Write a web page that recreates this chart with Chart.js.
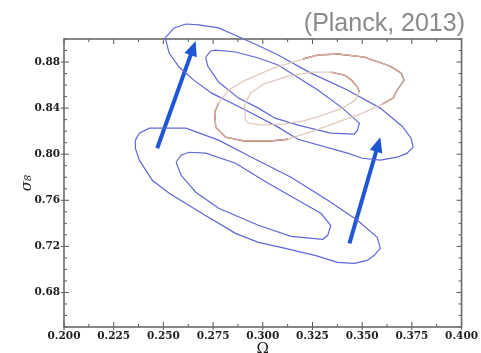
<!DOCTYPE html>
<html>
<head>
<meta charset="utf-8">
<script src="https://cdn.jsdelivr.net/npm/chart.js@4.4.1/dist/chart.umd.min.js"></script>
<style>
  html, body { margin: 0; padding: 0; background: #fff; }
  #wrap { width: 481px; height: 353px; }
</style>
</head>
<body>
<div id="wrap"><canvas id="myChart" width="481" height="353"></canvas></div>
<script>
// AXES
const xTicks = [0.200, 0.225, 0.250, 0.275, 0.300, 0.325, 0.350, 0.375, 0.400];
const xTickLabels = ['0.200', '0.225', '0.250', '0.275', '0.300', '0.325', '0.350', '0.375', '0.400'];
const yTicks = [0.68, 0.72, 0.76, 0.80, 0.84, 0.88];
const yTickLabels = ['0.68', '0.72', '0.76', '0.80', '0.84', '0.88'];

// CONTOURS (Omega, sigma_8)
// upper blue pair
const upOuterX = [0.2509,0.2554,0.2613,0.2678,0.2778,0.2893,0.2993,0.3077,0.3242,0.3426,0.3591,0.3701,0.3746,0.3756,0.3726,0.3676,0.3591,0.3501,0.3426,0.3177,0.3077,0.2913,0.2743,0.2653,0.2579,0.2529,0.2509];
const upOuterY = [0.9009,0.9096,0.9130,0.9122,0.9096,0.9009,0.8930,0.8861,0.8704,0.8557,0.8400,0.8243,0.8139,0.8061,0.8009,0.7974,0.7948,0.7965,0.8009,0.8130,0.8235,0.8383,0.8530,0.8643,0.8757,0.8878,0.9009];
const upInnerX = [0.2713,0.2738,0.2763,0.2863,0.2978,0.3077,0.3277,0.3401,0.3486,0.3476,0.3461,0.3342,0.3177,0.3062,0.2978,0.2878,0.2778,0.2723,0.2713];
const upInnerY = [0.8843,0.8896,0.8904,0.8887,0.8835,0.8774,0.8557,0.8400,0.8270,0.8209,0.8174,0.8183,0.8252,0.8313,0.8400,0.8487,0.8626,0.8765,0.8843];

// lower blue pair
const lowOuterX = [0.2359,0.2379,0.2429,0.2613,0.2778,0.2943,0.3142,0.3327,0.3476,0.3576,0.3591,0.3561,0.3526,0.3461,0.3377,0.3262,0.3092,0.2978,0.2863,0.2693,0.2529,0.2444,0.2379,0.2359,0.2359];
const lowOuterY = [0.8122,0.8183,0.8226,0.8226,0.8122,0.7974,0.7800,0.7600,0.7426,0.7278,0.7183,0.7122,0.7078,0.7052,0.7061,0.7122,0.7191,0.7235,0.7313,0.7487,0.7661,0.7774,0.7948,0.8052,0.8122];
const lowInnerX = [0.2564,0.2589,0.2628,0.2713,0.2863,0.3027,0.3177,0.3292,0.3342,0.3327,0.3302,0.3142,0.2978,0.2778,0.2663,0.2589,0.2564];
const lowInnerY = [0.7930,0.7991,0.8017,0.8009,0.7922,0.7748,0.7600,0.7487,0.7383,0.7296,0.7261,0.7287,0.7383,0.7530,0.7670,0.7817,0.7930];

// Planck contours (faint) and the darker red pieces on top of them
const plOuterX = [0.2778,0.2828,0.2913,0.3052,0.3202,0.3277,0.3377,0.3511,0.3641,0.3696,0.3711,0.3676,0.3656,0.3601,0.3501,0.3377,0.3252,0.3127,0.3027,0.2913,0.2813,0.2763,0.2758,0.2778];
const plOuterY = [0.8443,0.8557,0.8643,0.8748,0.8826,0.8861,0.8870,0.8843,0.8765,0.8704,0.8643,0.8557,0.8487,0.8435,0.8357,0.8278,0.8200,0.8130,0.8113,0.8113,0.8148,0.8235,0.8365,0.8443];
const plInnerX = [0.2913,0.2908,0.2938,0.3003,0.3127,0.3252,0.3342,0.3411,0.3446,0.3476,0.3486,0.3466,0.3401,0.3302,0.3202,0.3102,0.3003,0.2928,0.2913];
const plInnerY = [0.8296,0.8426,0.8530,0.8609,0.8678,0.8713,0.8713,0.8687,0.8643,0.8583,0.8539,0.8470,0.8400,0.8339,0.8287,0.8261,0.8252,0.8270,0.8296];

const redAX = [0.2778,0.2758,0.2763,0.2813,0.2913,0.3027,0.3127];
const redAY = [0.8443,0.8365,0.8235,0.8148,0.8113,0.8113,0.8130];
const redBX = [0.3202,0.3277,0.3377,0.3511,0.3641,0.3696];
const redBY = [0.8826,0.8861,0.8870,0.8843,0.8765,0.8704];
const darkX = [0.3696,0.3711,0.3676];
const darkY = [0.8704,0.8643,0.8557];
const redCX = [0.3676,0.3656,0.3601];
const redCY = [0.8557,0.8487,0.8435];
const redInX = [0.3342,0.3411,0.3446,0.3476,0.3486];
const redInY = [0.8713,0.8687,0.8643,0.8583,0.8539];

// shift arrows
const arrow1X = [0.2469, 0.2654];
const arrow1Y = [0.8052, 0.8942];
const arrow2X = [0.3436, 0.3584];
const arrow2Y = [0.7226, 0.8106];

const pts = (xs, ys) => xs.map((x, i) => ({ x: x, y: ys[i] }));

function curve(xs, ys, color, width) {
  return {
    data: pts(xs, ys),
    showLine: true,
    borderColor: color,
    borderWidth: width,
    pointRadius: 0,
    tension: 0,
    fill: false,
    clip: false
  };
}

const blue = '#6066d8';
const red = '#962a1b';
const pink = 'rgba(222,196,186,0.9)';
const arrowBlue = '#1f56d4';

const datasets = [
  curve(plOuterX, plOuterY, pink, 1.3),
  curve(plInnerX, plInnerY, pink, 1.3),
  curve(redAX, redAY, red, 1.4),
  curve(redBX, redBY, red, 1.4),
  curve(darkX, darkY, '#333', 1.3),
  curve(redCX, redCY, red, 1.4),
  curve(redInX, redInY, red, 1.4),
  curve(upOuterX, upOuterY, blue, 1.2),
  curve(upInnerX, upInnerY, blue, 1.2),
  curve(lowOuterX, lowOuterY, blue, 1.2),
  curve(lowInnerX, lowInnerY, blue, 1.2),
  Object.assign(curve(arrow1X, arrow1Y, arrowBlue, 4), { arrow: true }),
  Object.assign(curve(arrow2X, arrow2Y, arrowBlue, 4), { arrow: true })
];

// frame round the plot with inward ticks on all four sides
const frameTicks = {
  id: 'frameTicks',
  beforeDatasetsDraw(chart) {
    const { ctx, chartArea: a, scales: { x, y } } = chart;
    ctx.save();
    ctx.strokeStyle = '#555';
    ctx.lineWidth = 1;
    ctx.beginPath();
    xTicks.forEach((v, i) => {
      const px = x.getPixelForValue(v);
      ctx.moveTo(px, a.bottom + 3); ctx.lineTo(px, a.bottom - 5);
      ctx.moveTo(px, a.top); ctx.lineTo(px, a.top + 5);
      if (i < xTicks.length - 1) {
        const mx = x.getPixelForValue((v + xTicks[i + 1]) / 2);
        ctx.moveTo(mx, a.bottom); ctx.lineTo(mx, a.bottom - 3);
        ctx.moveTo(mx, a.top); ctx.lineTo(mx, a.top + 3);
      }
    });
    for (let k = 65; k <= 90; k++) {
      const v = k / 100;
      const py = y.getPixelForValue(v);
      const major = yTicks.some(t => Math.abs(t - v) < 1e-6);
      const len = major ? 5 : 3;
      ctx.moveTo(a.left - (major ? 3 : 0), py); ctx.lineTo(a.left + len, py);
      ctx.moveTo(a.right, py); ctx.lineTo(a.right - len, py);
    }
    ctx.stroke();
    ctx.lineWidth = 1.6;
    ctx.strokeStyle = '#6a6a6a';
    ctx.strokeRect(a.left, a.top, a.right - a.left, a.bottom - a.top);
    ctx.restore();
  }
};

// filled heads on the arrow datasets
const arrowHeads = {
  id: 'arrowHeads',
  afterDatasetsDraw(chart) {
    const ctx = chart.ctx;
    chart.data.datasets.forEach((ds, i) => {
      if (!ds.arrow) return;
      const p = chart.getDatasetMeta(i).data;
      const a = p[p.length - 2], b = p[p.length - 1];
      const ang = Math.atan2(b.y - a.y, b.x - a.x);
      ctx.save();
      ctx.fillStyle = ds.borderColor;
      ctx.translate(b.x, b.y);
      ctx.rotate(ang);
      ctx.beginPath();
      ctx.moveTo(5, 0);
      ctx.lineTo(-10, -6.5);
      ctx.lineTo(-10, 6.5);
      ctx.closePath();
      ctx.fill();
      ctx.restore();
    });
  }
};

const tickFont = { family: 'DejaVu Serif', size: 10.5, weight: 'bold' };

const ctx = document.getElementById('myChart');

new Chart(ctx, {
  type: 'scatter',
  data: { datasets: datasets },
  options: {
    responsive: false,
    devicePixelRatio: 1,
    animation: false,
    events: [],
    layout: { padding: { left: 0, right: 16, top: 0, bottom: 0 } },
    plugins: {
      legend: { display: false },
      tooltip: { enabled: false },
      title: {
        display: true,
        text: '(Planck, 2013)',
        align: 'end',
        color: '#8a8a8a',
        font: { family: 'Liberation Sans', size: 25, weight: 'normal', lineHeight: 1 },
        padding: { top: 12, bottom: 2 }
      }
    },
    scales: {
      x: {
        type: 'linear',
        min: 0.2,
        max: 0.4,
        afterBuildTicks: s => { s.ticks = xTicks.map(v => ({ value: v })); },
        afterFit: s => { s.height = 26; },
        grid: { display: false, drawTicks: false },
        border: { display: false },
        ticks: {
          autoSkip: false,
          maxRotation: 0,
          padding: 3,
          color: '#1e1e1e',
          font: tickFont,
          callback: (v, i) => xTickLabels[i]
        },
        title: {
          display: true,
          text: 'Ω',
          color: '#1e1e1e',
          font: { family: 'DejaVu Serif', size: 15 },
          padding: { top: 0, bottom: -5 }
        }
      },
      y: {
        type: 'linear',
        min: 0.65,
        max: 0.90,
        afterBuildTicks: s => { s.ticks = yTicks.map(v => ({ value: v })); },
        afterFit: s => { s.width = 64; },
        grid: { display: false, drawTicks: false },
        border: { display: false },
        ticks: {
          autoSkip: false,
          padding: 4,
          color: '#1e1e1e',
          font: tickFont,
          callback: (v, i) => yTickLabels[i]
        },
        title: {
          display: true,
          text: 'σ₈',
          color: '#1e1e1e',
          font: { family: 'DejaVu Serif', size: 15, style: 'italic' },
          padding: { top: 18, bottom: 0 }
        }
      }
    }
  },
  plugins: [frameTicks, arrowHeads]
});
</script>
</body>
</html>
